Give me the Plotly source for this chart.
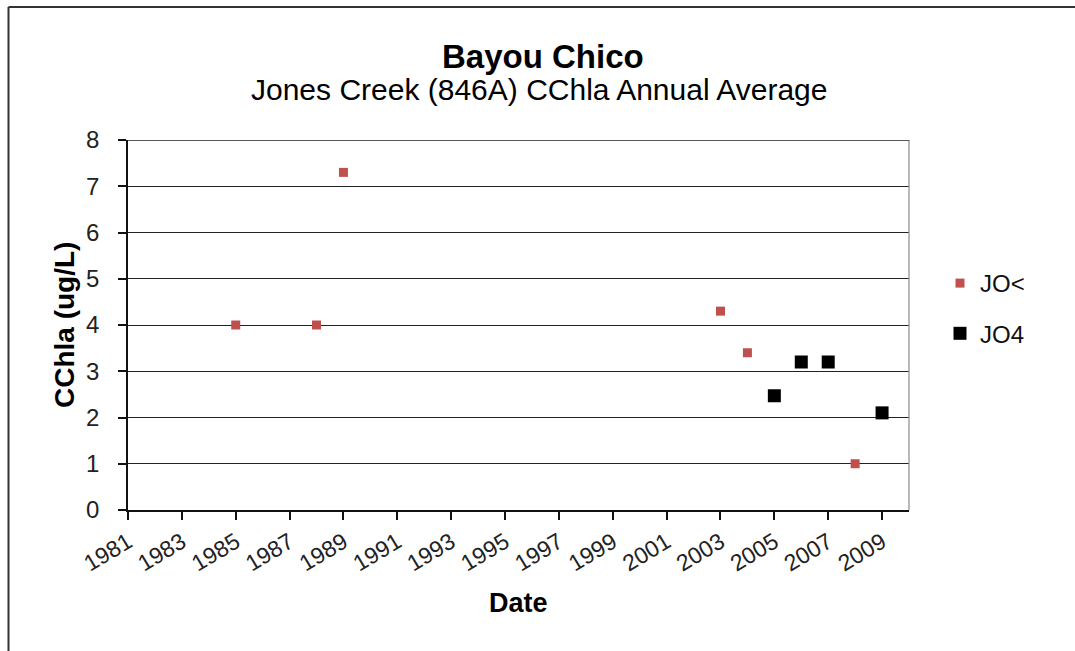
import plotly.graph_objects as go

# Annual average CChla by station
years_jo_lt = [1985, 1988, 1989, 2003, 2004, 2008]
cchla_jo_lt = [4.0, 4.0, 7.3, 4.3, 3.4, 1.0]

years_jo4 = [2005, 2006, 2007, 2009]
cchla_jo4 = [2.47, 3.2, 3.2, 2.1]

x_ticks = list(range(1981, 2010, 2))
y_ticks = list(range(0, 9))

FONT = "Arial, Liberation Sans, sans-serif"
W, H = 1075, 651
L, R, T, B = 128, 166, 140, 141
pw, ph = W - L - R, H - T - B


def px_to_paper_x(px):
    return (px - L) / pw


def px_to_paper_y(py):
    return (H - B - py) / ph


fig = go.Figure()
fig.add_trace(go.Scatter(
    x=years_jo_lt, y=cchla_jo_lt, mode="markers", name="JO<",
    legendgroup="a",
    marker=dict(symbol="square", size=9, color="#C0504D"),
))
fig.add_trace(go.Scatter(
    x=years_jo4, y=cchla_jo4, mode="markers", name="JO4",
    legendgroup="b",
    marker=dict(symbol="square", size=13, color="#000000"),
))

fig.update_layout(
    width=W, height=H,
    margin=dict(l=L, r=R, t=T, b=B, pad=0),
    paper_bgcolor="white", plot_bgcolor="white",
    font=dict(family=FONT, color="#111111"),
    showlegend=True,
    legend=dict(
        x=px_to_paper_x(940), y=px_to_paper_y(261),
        xanchor="left", yanchor="top",
        font=dict(size=24, family=FONT, color="#111111"),
        tracegroupgap=16, bgcolor="rgba(0,0,0,0)",
    ),
    xaxis=dict(
        range=[1981, 2010], tickvals=x_ticks,
        ticktext=[str(v) for v in x_ticks],
        tickangle=-31, ticks="outside", ticklen=8, tickwidth=1.5,
        tickcolor="#111111", showline=True, linecolor="#111111",
        linewidth=1.5, showgrid=False, zeroline=False,
        tickfont=dict(size=23, family=FONT, color="#222222"),
    ),
    yaxis=dict(
        range=[0, 8], tickvals=y_ticks, ticks="outside", ticklen=8,
        tickwidth=1.5, tickcolor="#111111", showline=True,
        linecolor="#111111", linewidth=1.5, showgrid=True,
        gridcolor="#222222", gridwidth=1.3, zeroline=False,
        ticklabelstandoff=14,
        tickfont=dict(size=24, family=FONT, color="#222222"),
    ),
    shapes=[
        # plot area right edge
        dict(type="line", xref="paper", yref="paper", x0=1, x1=1, y0=0, y1=1,
             line=dict(color="#8a8a8a", width=1.2)),
        # top gridline at the axis maximum
        dict(type="line", xref="paper", yref="y", x0=0, x1=1, y0=8, y1=8,
             line=dict(color="#222222", width=1.3)),
        # chart frame (left and top edges)
        dict(type="line", xref="paper", yref="paper",
             x0=px_to_paper_x(8.5), x1=px_to_paper_x(8.5),
             y0=px_to_paper_y(7), y1=px_to_paper_y(H + 5),
             line=dict(color="#333333", width=2)),
        dict(type="line", xref="paper", yref="paper",
             x0=px_to_paper_x(8.5), x1=px_to_paper_x(W + 5),
             y0=px_to_paper_y(7), y1=px_to_paper_y(7),
             line=dict(color="#333333", width=2)),
    ],
    annotations=[
        dict(text="<b>Bayou Chico</b>", xref="paper", yref="paper",
             x=px_to_paper_x(543), y=px_to_paper_y(56), showarrow=False,
             xanchor="center", yanchor="middle",
             font=dict(size=33, family=FONT, color="#000000")),
        dict(text="Jones Creek (846A) CChla Annual Average", xref="paper",
             yref="paper", x=px_to_paper_x(539), y=px_to_paper_y(89),
             showarrow=False, xanchor="center", yanchor="middle",
             font=dict(size=30, family=FONT, color="#000000")),
        dict(text="<b>CChla (ug/L)</b>", xref="paper", yref="paper",
             x=px_to_paper_x(64), y=0.5, textangle=-90, showarrow=False,
             xanchor="center", yanchor="middle",
             font=dict(size=28, family=FONT, color="#000000")),
        dict(text="<b>Date</b>", xref="paper", yref="paper",
             x=0.5, y=px_to_paper_y(603), showarrow=False,
             xanchor="center", yanchor="middle",
             font=dict(size=27, family=FONT, color="#000000")),
    ],
)

fig.write_html("out.html")
